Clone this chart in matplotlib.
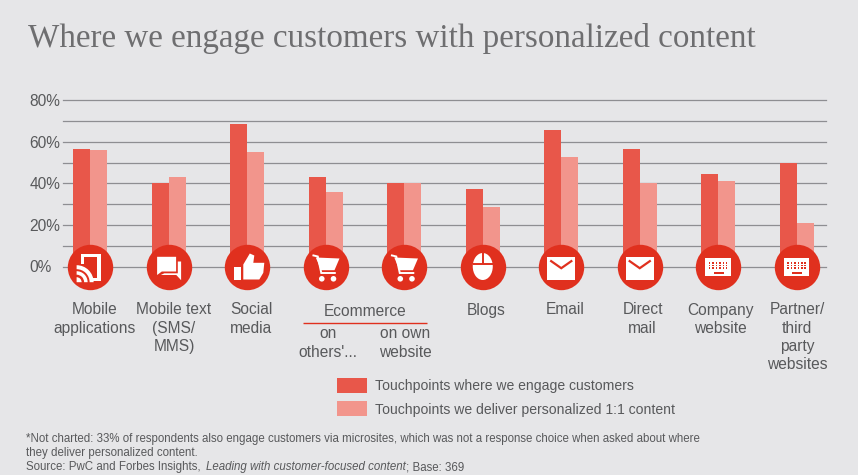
import matplotlib
matplotlib.use('Agg')
import matplotlib.pyplot as plt
import numpy as np
from matplotlib.patches import Circle, Ellipse, Polygon, Rectangle, Wedge
from matplotlib.transforms import Affine2D

plt.rcParams['font.family'] = ['Liberation Sans', 'DejaVu Sans']

# Values
categories = ['Mobile applications', 'Mobile text (SMS/MMS)', 'Social media',
              "Ecommerce on others'...", 'Ecommerce on own website', 'Blogs',
              'Email', 'Direct mail', 'Company website',
              'Partner/third party websites']
engage = [56.5, 40, 68.5, 43, 40, 37.3, 65.7, 56.5, 44.5, 50]
personalized = [56, 43, 55, 36, 40, 28.6, 52.7, 40, 41, 21]
y_ticks = [0, 20, 40, 60, 80]
y_minor = [10, 30, 50, 70]
y_labels = ['0%', '20%', '40%', '60%', '80%']
engage_label = 'Touchpoints where we engage customers'
personalized_label = 'Touchpoints we deliver personalized 1:1 content'
icon_names = ['mobile', 'chat', 'thumb', 'cart', 'cart', 'mouse', 'mail', 'mail', 'keys', 'keys']

BG = '#E6E6E8'
DARK = '#E8574A'
LIGHT = '#F2958C'
RED = '#E0301E'
GREY = '#58595B'
GRID = '#8E8E92'
W, H = 858, 475

fig = plt.figure(figsize=(W / 100, H / 100), dpi=100, facecolor=BG)
ax = fig.add_axes([63 / W, 1 - 266.5 / H, 763 / W, 166.2 / H], facecolor='none')
px = Affine2D().scale(1, -1).translate(0, H)  # figure pixels, origin top left

x = np.arange(len(categories))
bar_w = 17 / 78.5
bars1 = ax.bar(x - bar_w / 2, engage, bar_w, color=DARK, zorder=3, label=engage_label)
bars2 = ax.bar(x + bar_w / 2, personalized, bar_w, color=LIGHT, zorder=3, label=personalized_label)

ax.set_xlim(-0.348, 9.373)
ax.set_ylim(0, 80)
ax.set_yticks(y_ticks)
ax.set_yticklabels(y_labels, fontsize=11.2, color=GREY, ha='left')
ax.set_yticks(y_minor, minor=True)
ax.tick_params(axis='y', which='both', length=0, pad=24)
ax.set_xticks([])
ax.grid(axis='y', which='both', color=GRID, lw=0.9, zorder=1, clip_on=False)
ax.set_axisbelow(True)
for s in ax.spines.values():
    s.set_visible(False)

# Icon discs
ax.scatter(x, [0] * len(x), s=(2 * 22.7 * 0.72) ** 2, color=RED, linewidths=0,
           zorder=4, clip_on=False)


def add(p, tr):
    p.set_transform(tr)
    p.set_clip_on(False)
    p.set_zorder(5)
    fig.add_artist(p)


def rect(tr, x0, y0, x1, y1, c='white'):
    add(Rectangle((x0, y0), x1 - x0, y1 - y0, fc=c, ec='none'), tr)


def poly(tr, pts, c='white'):
    add(Polygon(pts, closed=True, fc=c, ec='none'), tr)


def line(tr, pts, lw=1.4, c=RED):
    add(plt.Line2D([p[0] for p in pts], [p[1] for p in pts], color=c, lw=lw,
                   solid_capstyle='butt', solid_joinstyle='miter'), tr)


def draw_icon(name, tr):
    if name == 'mobile':
        rect(tr, -9.7, -13, 10.3, -9.7)
        rect(tr, -9.7, -13, -6.3, -2.5)
        rect(tr, 7, -13, 10.3, 14.7)
        rect(tr, 0, 11.4, 10.3, 14.7)
        # wifi arcs sit over the phone corner, y axis of the icon points down
        add(Wedge((-13.7, 15.7), 5, 270, 360, fc='white', ec='none'), tr)
        for r0, r1 in [(7.5, 11), (13, 17)]:
            add(Wedge((-13.7, 15.7), r1, 270, 360, width=r1 - r0, fc='white', ec='none'), tr)
    elif name == 'chat':
        poly(tr, [(-11.7, -9.7), (7.3, -9.7), (7.3, 5), (-7, 5), (-11.7, 8.5)])
        poly(tr, [(9, -5), (12.3, -5), (12.3, 13.7), (7.5, 8.5), (-8, 8.5), (-4.5, 6.8), (9, 6.8)])
    elif name == 'thumb':
        rect(tr, -13, 0, -6.3, 13)
        poly(tr, [(-4, -2), (2.5, -13), (7, -11), (6, -3.7), (17, -3.7), (16, 6.3), (12, 13), (-4, 13)])
    elif name == 'cart':
        line(tr, [(-13.3, -11.3), (-8, -10), (-4.5, 6.5), (10, 6.5)], lw=1.4, c='white')
        poly(tr, [(-10, -9), (13.7, -8), (8.7, 3.7), (-4.7, 3.7)])
        for cx in (-4, 7.7):
            add(Circle((cx, 12.3), 2.8, fc='white', ec='none'), tr)
    elif name == 'mouse':
        add(Ellipse((0, 0), 20, 27, fc='white', ec='none'), tr)
        line(tr, [(0, -14), (0, -3)])
        line(tr, [(-10, -3), (10, -3)])
    elif name == 'mail':
        rect(tr, -14, -10, 14, 13)
        line(tr, [(-11, -6), (0, 1.7), (11, -6)], lw=1.6)
    elif name == 'keys':
        rect(tr, -13, -9, 12.7, 9.7)
        for row in (-3.7, -1, 1.7):
            for col in np.linspace(-8.5, 8.5, 6):
                rect(tr, col - 0.75, row - 0.75, col + 0.75, row + 0.75, RED)
        rect(tr, -4.7, 5.3, 5.3, 7, RED)


centers = ax.transData.transform([(i, 0) for i in x])
for name, (cx, cy) in zip(icon_names, centers):
    # icon units are pixels, y down
    draw_icon(name, Affine2D().scale(1, -1).translate(cx, cy))


def label(xp, yp, s, size=11.2, ha='center', **kw):
    return fig.text(xp, yp, s, transform=px, fontsize=size, color=GREY, ha=ha, va='center', **kw)


# Category labels
tick_text = [
    (94.5, ['Mobile', 'applications']),
    (174, ['Mobile text', '(SMS/', 'MMS)']),
    (251, ['Social', 'media']),
    (328, ['on', "others'..."]),
    (405.5, ['on own', 'website']),
    (486, ['Blogs']),
    (565, ['Email']),
    (642.5, ['Direct', 'mail']),
    (720, ['Company', 'website']),
    (797, ['Partner/', 'third', 'party', 'websites']),
]
for xp, lines in tick_text:
    y0 = 334 if lines[0] in ('on', 'on own') else 310
    for j, s in enumerate(lines):
        label(xp, y0 + j * 18.3, s)

label(365, 312, 'Ecommerce')
line(px, [(303, 323.3), (427, 323.3)], lw=1.0, c=RED)

# Title
fig.text(28, 38.5, 'Where we engage customers with personalized content', transform=px,
         family='Liberation Serif', fontsize=23.9, color='#6E6E70', ha='left', va='center')

# Legend
fs = 10.05
fpx = fs * 100 / 72
ax.legend(handles=[bars1, bars2], labels=[engage_label, personalized_label], frameon=False,
          loc='upper left', bbox_to_anchor=(337 / W, 1 - 378 / H), bbox_transform=fig.transFigure,
          fontsize=fs, labelcolor=GREY, handlelength=30 / fpx, handleheight=1.25,
          handletextpad=8 / fpx, labelspacing=0.6, borderpad=0, borderaxespad=0)

# Footnote
note = 8.3
label(26, 439, '*Not charted: 33% of respondents also engage customers via microsites, which was not a '
      'response choice when asked about where', size=note, ha='left')
label(26, 453, 'they deliver personalized content.', size=note, ha='left')
rend = fig.canvas.get_renderer()
xp = 26
for s, style in [('Source: PwC and Forbes Insights, ', 'normal'),
                 ('Leading with customer-focused content', 'italic'),
                 ('; Base: 369', 'normal')]:
    t = label(xp, 467, s, size=note, ha='left', style=style)
    xp = t.get_window_extent(rend).x1 + (2.3 if s.endswith(' ') else 0)

fig.savefig('out.png', dpi=100, facecolor=BG)
